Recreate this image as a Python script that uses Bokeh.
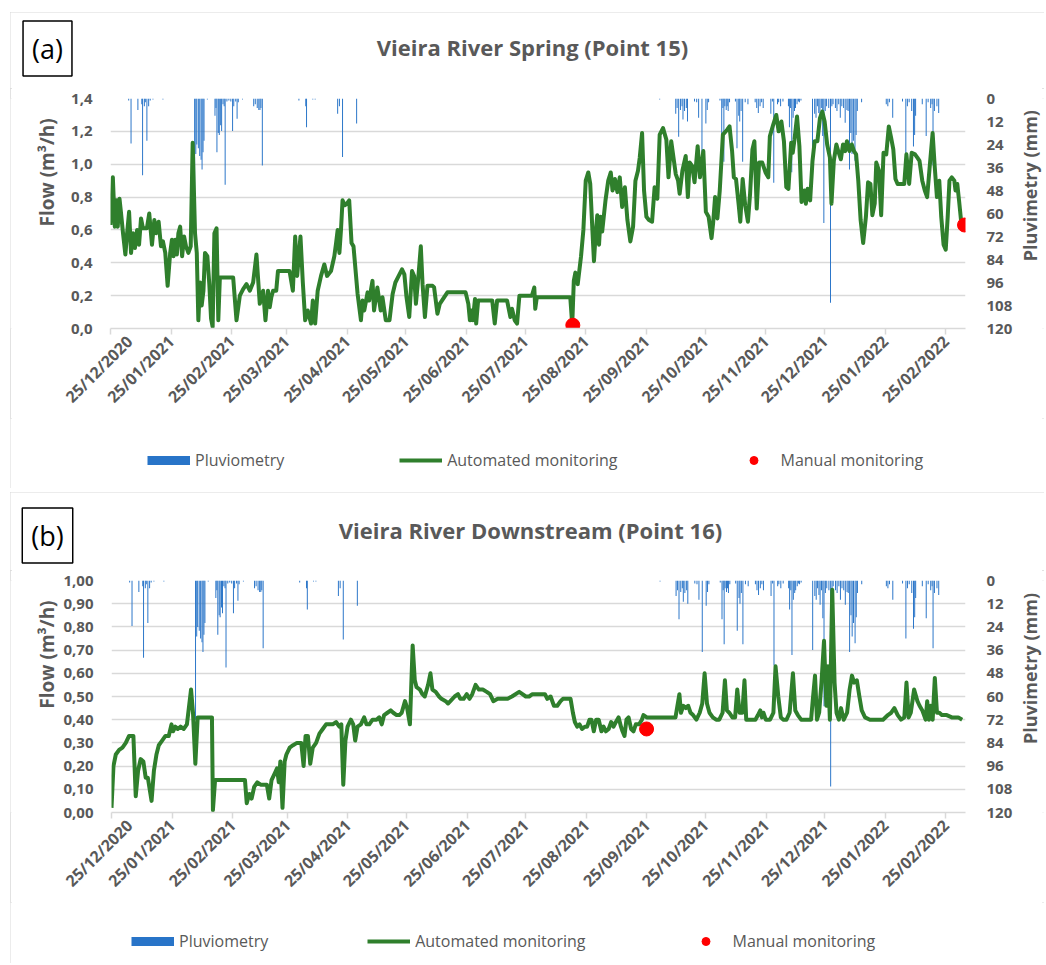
import numpy as np
import pandas as pd
from datetime import datetime
from bokeh.plotting import figure
from bokeh.models import (Range1d, LinearAxis, FixedTicker, CustomJSTickFormatter,
                          DatetimeTickFormatter, Legend, LegendItem, Label, ColumnDataSource)
from bokeh.layouts import column, row
from bokeh.embed import file_html
from bokeh.resources import INLINE

# ---------------- data ----------------
START = "25/12/2020"
X_SPAN_DAYS = 437

date_tick_labels = ["25/12/2020", "25/01/2021", "25/02/2021", "25/03/2021", "25/04/2021",
                    "25/05/2021", "25/06/2021", "25/07/2021", "25/08/2021", "25/09/2021",
                    "25/10/2021", "25/11/2021", "25/12/2021", "25/01/2022", "25/02/2022"]

flow_a_ticks = [0.0, 0.2, 0.4, 0.6, 0.8, 1.0, 1.2, 1.4]
flow_b_ticks = [0.0, 0.1, 0.2, 0.3, 0.4, 0.5, 0.6, 0.7, 0.8, 0.9, 1.0]
rain_ticks = [0, 12, 24, 36, 48, 60, 72, 84, 96, 108, 120]

# daily rainfall (days after 25/12/2020, mm)
rain_day = [9.3, 10.5, 14.0, 16.0, 16.4, 17.3, 17.8, 18.6, 19.5, 20.3,
            21.7, 26.8, 43.0, 43.6, 44.1, 44.9, 45.6, 46.3, 46.8, 47.3,
            47.8, 49.5, 53.4, 53.9, 54.4, 55.1, 55.6, 56.3, 56.8, 57.5,
            58.1, 58.6, 59.5, 60.5, 61.5, 62.4, 63.0, 64.0, 64.7, 65.3,
            67.5, 73.2, 74.0, 75.0, 75.8, 76.4, 76.9, 77.6, 96.3, 99.8,
            100.2, 103.4, 104.6, 116.1, 117.0, 118.6, 125.8, 280.7, 288.9, 289.6,
            290.4, 291.3, 292.1, 292.6, 293.4, 294.3, 294.9, 298.5, 299.6, 300.6,
            302.3, 304.3, 305.0, 305.7, 311.5, 312.4, 313.0, 313.5, 314.0, 314.7,
            315.2, 315.7, 316.4, 319.4, 320.2, 321.1, 321.6, 322.3, 323.1, 324.4,
            325.8, 329.5, 330.3, 331.1, 332.0, 332.8, 333.6, 337.5, 338.3, 339.0,
            340.9, 341.5, 342.5, 343.7, 346.5, 347.0, 347.6, 348.2, 348.9, 349.6,
            350.1, 350.9, 351.6, 352.1, 352.9, 358.8, 359.9, 360.6, 361.3, 362.0,
            362.6, 363.3, 364.0, 364.6, 365.3, 366.0, 367.1, 368.0, 368.7, 369.3,
            370.5, 371.3, 372.2, 373.0, 373.8, 374.7, 375.5, 376.4, 377.0, 377.7,
            378.4, 379.0, 379.7, 380.5, 381.1, 381.7, 383.9, 396.5, 397.3, 398.1,
            399.8, 404.8, 406.5, 407.3, 408.2, 409.5, 410.4, 411.0, 411.5, 414.9,
            416.9, 417.9, 419.2, 419.9, 420.4, 421.1, 422.4, 423.3]
rain_mm = [1, 23.5, 6, 3, 40, 4, 2, 22, 4, 1,
           0.5, 0.5, 72, 29, 24, 26, 30, 32, 37, 28,
           22, 0.5, 9, 5, 28, 18, 19, 14, 17, 3,
           4, 45, 1.5, 1, 1.5, 17, 4, 1.5, 10.5, 2,
           0.5, 4, 3, 5, 6, 6, 5, 35, 1, 4,
           15, 0.5, 0.5, 8, 4, 30.5, 13, 0.5, 8, 5,
           20, 6, 4, 11, 6.5, 5, 12, 1.5, 2, 10,
           37, 13, 6, 2, 1, 20, 5, 33, 4, 6,
           4, 6.5, 2, 1.5, 26, 9, 12, 6.5, 33, 2,
           3, 2, 5, 7.5, 4, 2, 5, 8, 1.5, 44,
           3, 2, 4, 1.5, 4, 15, 5, 38.5, 10, 6.5,
           5, 3, 1.5, 2, 1, 36, 8, 10, 4, 7.5,
           12.6, 5, 19.5, 65, 6.5, 4, 5, 106.5, 4, 3,
           5, 6.5, 3, 10, 4, 5, 12.6, 6, 6.5, 37,
           18, 29, 22, 32.5, 19, 6.5, 2, 3, 4, 2,
           10, 1.5, 30, 4, 2, 6.5, 25, 19, 9, 3,
           19.5, 2, 5, 3, 35, 6.5, 4, 7.5]

# (a) Vieira River Spring - automated flow (days after 25/12/2020, m3/h)
flow_a_day = [0.0, 1.2, 2.2, 3.1, 3.7, 4.6, 5.4, 6.4, 7.6, 8.5,
              9.5, 10.5, 11.5, 12.5, 13.6, 14.6, 15.6, 16.6, 18.6, 19.8,
              21.2, 22.4, 23.4, 24.6, 25.8, 26.8, 28.0, 29.2, 30.5, 31.4,
              32.2, 33.1, 33.9, 34.7, 35.6, 36.6, 37.6, 38.6, 39.8, 41.0,
              42.0, 43.2, 44.1, 44.9, 45.8, 46.6, 47.5, 48.3, 49.5, 50.5,
              51.4, 52.2, 53.1, 54.2, 55.1, 55.9, 62.7, 64.4, 66.1, 67.8,
              69.5, 71.2, 72.9, 74.6, 76.3, 78.0, 79.2, 80.5, 81.4, 82.2,
              83.1, 84.7, 85.6, 91.5, 93.2, 94.4, 95.4, 97.1, 98.3, 99.5,
              100.8, 102.5, 103.4, 104.6, 105.9, 107.6, 109.3, 110.7, 112.7, 114.4,
              115.3, 116.1, 117.0, 117.8, 118.6, 119.8, 120.8, 122.0, 123.2, 124.2,
              126.3, 128.0, 128.8, 129.7, 131.4, 132.2, 133.9, 134.7, 136.4, 138.1,
              139.0, 140.7, 142.6, 144.2, 145.6, 147.3, 149.0, 150.2, 151.3, 152.7,
              154.1, 155.2, 156.1, 157.4, 158.6, 159.5, 160.7, 162.0, 164.6, 165.4,
              167.1, 168.3, 170.5, 172.2, 181.5, 182.9, 183.7, 184.6, 185.2, 186.3,
              186.9, 187.9, 195.1, 196.4, 197.6, 202.7, 204.4, 205.2, 206.6, 207.8,
              209.0, 215.4, 216.6, 217.1, 217.9, 235.0, 236.0, 236.8, 237.6, 238.8,
              240.5, 241.7, 242.9, 244.2, 245.2, 246.3, 247.1, 248.0, 248.8, 249.7,
              250.5, 251.3, 253.0, 254.4, 255.7, 256.6, 257.8, 259.1, 260.3, 261.5,
              262.9, 264.2, 265.7, 267.1, 268.3, 269.6, 270.5, 271.7, 272.7, 273.9,
              275.2, 276.8, 278.1, 279.5, 280.7, 282.4, 284.1, 285.2, 286.6, 288.9,
              290.1, 290.9, 292.3, 294.0, 295.1, 296.0, 297.3, 298.5, 300.1, 301.3,
              303.0, 304.3, 305.7, 307.2, 308.0, 309.0, 310.2, 311.4, 313.0, 315.2,
              316.4, 317.7, 318.6, 319.7, 321.1, 321.9, 323.1, 324.4, 325.8, 326.9,
              328.1, 329.1, 330.3, 331.5, 333.1, 334.8, 336.2, 337.0, 338.7, 340.3,
              341.5, 342.9, 344.2, 345.4, 346.5, 347.9, 348.7, 349.6, 350.9, 352.1,
              353.2, 354.6, 355.4, 356.3, 357.6, 358.8, 359.9, 361.3, 362.6, 363.8,
              365.0, 366.3, 367.7, 368.5, 369.7, 371.0, 372.2, 373.3, 374.4, 375.5,
              376.4, 377.7, 378.9, 380.0, 381.1, 382.2, 383.4, 384.7, 386.1, 387.2,
              388.4, 389.4, 390.6, 391.4, 392.8, 393.9, 395.1, 396.5, 397.8, 399.0,
              400.1, 401.2, 402.3, 405.7, 406.8, 408.2, 409.5, 411.2, 412.4, 413.5,
              414.9, 416.2, 417.4, 418.6, 420.2, 421.3, 422.4, 423.6, 424.6, 425.8,
              426.9, 427.9, 428.8, 430.0, 431.3, 431.9, 432.8, 433.7, 434.7]
flow_a = [0.63, 0.92, 0.62, 0.78, 0.62, 0.79, 0.70, 0.58, 0.45, 0.58,
          0.71, 0.46, 0.58, 0.49, 0.60, 0.51, 0.67, 0.61, 0.61, 0.70,
          0.51, 0.66, 0.58, 0.65, 0.50, 0.53, 0.46, 0.26, 0.46, 0.54,
          0.44, 0.54, 0.45, 0.58, 0.62, 0.44, 0.56, 0.50, 0.46, 0.50,
          1.13, 0.58, 0.46, 0.05, 0.28, 0.14, 0.23, 0.46, 0.44, 0.27,
          0.06, 0.01, 0.58, 0.61, 0.05, 0.31, 0.31, 0.05, 0.20, 0.24,
          0.27, 0.23, 0.28, 0.45, 0.15, 0.23, 0.05, 0.23, 0.13, 0.19,
          0.23, 0.23, 0.35, 0.35, 0.23, 0.56, 0.32, 0.56, 0.28, 0.05,
          0.11, 0.03, 0.17, 0.03, 0.23, 0.32, 0.39, 0.32, 0.35, 0.44,
          0.52, 0.60, 0.46, 0.60, 0.78, 0.75, 0.76, 0.78, 0.52, 0.50,
          0.21, 0.05, 0.17, 0.11, 0.22, 0.17, 0.29, 0.11, 0.25, 0.11,
          0.19, 0.05, 0.05, 0.21, 0.28, 0.32, 0.36, 0.33, 0.19, 0.07,
          0.35, 0.32, 0.15, 0.32, 0.50, 0.27, 0.07, 0.26, 0.26, 0.25,
          0.09, 0.15, 0.19, 0.22, 0.22, 0.15, 0.05, 0.11, 0.05, 0.18,
          0.03, 0.17, 0.17, 0.03, 0.17, 0.17, 0.07, 0.12, 0.05, 0.03,
          0.20, 0.20, 0.25, 0.12, 0.19, 0.19, 0.02, 0.29, 0.34, 0.27,
          0.44, 0.60, 0.90, 0.95, 0.88, 0.60, 0.41, 0.58, 0.69, 0.51,
          0.68, 0.59, 0.78, 0.90, 0.95, 0.84, 0.91, 0.83, 0.92, 0.74,
          0.86, 0.66, 0.53, 0.62, 0.90, 0.96, 1.04, 1.19, 0.84, 0.68,
          0.66, 0.65, 0.86, 0.79, 1.18, 1.22, 1.15, 0.92, 1.14, 0.94,
          0.90, 0.82, 0.96, 1.05, 0.80, 1.01, 0.99, 0.89, 1.11, 0.92,
          1.08, 0.71, 0.68, 0.55, 0.64, 0.80, 0.67, 0.84, 1.18, 1.21,
          1.23, 1.08, 0.92, 0.91, 0.75, 0.65, 0.91, 0.75, 0.65, 0.82,
          1.09, 1.14, 0.73, 1.01, 1.01, 0.95, 0.92, 1.17, 1.24, 1.30,
          1.20, 1.26, 1.14, 0.86, 0.85, 1.13, 1.07, 1.15, 1.29, 1.11,
          0.77, 0.84, 0.76, 0.85, 0.78, 1.02, 1.14, 1.14, 1.28, 1.32,
          1.26, 1.12, 1.04, 0.76, 1.02, 1.12, 1.07, 1.03, 1.12, 1.08,
          1.14, 1.08, 1.12, 1.08, 1.06, 0.90, 0.66, 0.52, 0.68, 0.89,
          0.88, 0.69, 0.76, 1.01, 0.96, 0.69, 1.07, 1.06, 1.23, 1.16,
          1.09, 0.91, 0.88, 0.88, 1.06, 0.88, 1.07, 1.06, 1.04, 1.02,
          0.90, 0.84, 0.80, 0.97, 1.19, 0.98, 0.80, 0.90, 0.68, 0.51,
          0.48, 0.68, 0.90, 0.92, 0.90, 0.84, 0.88, 0.78, 0.66]
manual_a_day = [236.3, 436.5]
manual_a = [0.02, 0.63]

# (b) Vieira River Downstream - automated flow (days after 25/12/2020, m3/h)
flow_b_day = [0.0, 1.0, 2.2, 3.9, 5.6, 7.3, 9.0, 10.2, 11.2, 12.4,
              13.6, 14.9, 16.3, 17.5, 18.6, 20.5, 21.7, 23.0, 24.2, 25.9,
              27.6, 29.3, 30.7, 31.5, 32.7, 33.9, 35.3, 36.9, 38.6, 40.7,
              41.7, 42.9, 44.1, 51.4, 51.9, 53.0, 68.3, 69.2, 70.5, 71.7,
              73.0, 74.6, 76.3, 79.5, 80.7, 81.9, 83.6, 84.7, 85.6, 86.4,
              87.5, 88.6, 89.5, 91.2, 92.9, 94.9, 97.1, 98.3, 99.3, 100.5,
              101.7, 103.0, 104.7, 106.4, 108.1, 109.8, 111.5, 113.2, 114.9, 116.6,
              117.6, 118.6, 119.7, 120.8, 122.5, 123.7, 124.7, 125.9, 127.6, 129.3,
              130.5, 131.9, 133.6, 135.6, 137.0, 138.3, 139.5, 141.2, 142.9, 144.2,
              145.9, 147.3, 148.5, 150.2, 151.3, 152.7, 154.1, 155.2, 156.1, 157.8,
              159.1, 160.3, 162.0, 163.2, 164.2, 165.9, 167.6, 168.8, 171.0, 172.2,
              173.4, 175.6, 177.3, 178.5, 180.2, 181.8, 183.2, 184.6, 186.3, 188.0,
              190.0, 192.0, 193.7, 195.4, 197.6, 200.2, 202.7, 204.9, 208.6, 210.3,
              212.0, 213.7, 215.4, 217.9, 220.2, 221.8, 223.0, 224.7, 226.4, 228.1,
              229.8, 231.0, 234.9, 236.1, 237.1, 238.3, 239.5, 240.8, 242.2, 243.4,
              244.6, 245.6, 246.8, 248.0, 249.3, 250.7, 251.8, 253.0, 254.4, 255.7,
              256.9, 258.1, 259.5, 260.7, 261.5, 262.5, 263.5, 264.6, 265.9, 267.1,
              268.3, 270.0, 271.4, 272.2, 273.9, 288.6, 290.6, 291.4, 292.6, 293.9,
              295.1, 296.3, 297.6, 299.3, 301.0, 302.3, 303.5, 304.7, 306.0, 307.7,
              309.4, 311.0, 312.7, 313.9, 314.9, 316.1, 317.7, 319.1, 320.2, 321.4,
              322.8, 323.9, 324.8, 329.5, 330.8, 332.0, 332.8, 333.6, 334.8, 337.0,
              338.7, 339.8, 341.2, 342.5, 343.7, 345.4, 347.0, 348.7, 349.9, 351.2,
              352.9, 358.0, 358.8, 360.0, 361.0, 362.1, 363.3, 364.6, 365.8, 366.6,
              367.6, 368.8, 370.0, 371.0, 372.2, 373.3, 374.7, 376.4, 377.7, 378.9,
              380.0, 381.4, 382.7, 383.9, 385.6, 388.1, 394.8, 397.3, 399.0, 400.6,
              402.3, 404.0, 405.7, 406.8, 407.9, 409.0, 410.7, 412.4, 413.5, 414.9,
              416.6, 417.4, 418.3, 419.2, 420.2, 421.3, 422.4, 423.6, 424.9, 427.4,
              430.0, 433.3, 435.3]
flow_b = [0.02, 0.20, 0.25, 0.27, 0.28, 0.30, 0.33, 0.33, 0.33, 0.07,
          0.18, 0.23, 0.22, 0.15, 0.15, 0.05, 0.18, 0.25, 0.29, 0.31,
          0.33, 0.33, 0.38, 0.35, 0.37, 0.36, 0.37, 0.36, 0.38, 0.53,
          0.43, 0.21, 0.41, 0.41, 0.01, 0.14, 0.14, 0.04, 0.08, 0.06,
          0.11, 0.13, 0.12, 0.12, 0.06, 0.14, 0.17, 0.19, 0.13, 0.22,
          0.02, 0.22, 0.25, 0.28, 0.29, 0.30, 0.30, 0.20, 0.33, 0.33,
          0.21, 0.28, 0.30, 0.34, 0.36, 0.38, 0.38, 0.38, 0.39, 0.37,
          0.38, 0.12, 0.31, 0.37, 0.40, 0.38, 0.31, 0.37, 0.38, 0.41,
          0.38, 0.38, 0.40, 0.40, 0.41, 0.38, 0.42, 0.43, 0.44, 0.43,
          0.42, 0.42, 0.43, 0.48, 0.45, 0.38, 0.72, 0.57, 0.54, 0.53,
          0.51, 0.50, 0.55, 0.60, 0.53, 0.52, 0.50, 0.49, 0.48, 0.47,
          0.48, 0.50, 0.51, 0.49, 0.49, 0.51, 0.49, 0.51, 0.55, 0.53,
          0.53, 0.52, 0.51, 0.48, 0.49, 0.49, 0.49, 0.50, 0.52, 0.51,
          0.50, 0.50, 0.51, 0.51, 0.51, 0.51, 0.49, 0.50, 0.46, 0.46,
          0.48, 0.49, 0.49, 0.43, 0.39, 0.37, 0.38, 0.36, 0.37, 0.37,
          0.40, 0.40, 0.35, 0.40, 0.40, 0.35, 0.37, 0.35, 0.36, 0.39,
          0.37, 0.39, 0.41, 0.37, 0.35, 0.33, 0.40, 0.41, 0.36, 0.35,
          0.38, 0.38, 0.40, 0.42, 0.41, 0.41, 0.51, 0.43, 0.46, 0.45,
          0.46, 0.43, 0.42, 0.40, 0.43, 0.47, 0.60, 0.47, 0.43, 0.41,
          0.40, 0.40, 0.43, 0.57, 0.44, 0.43, 0.41, 0.41, 0.53, 0.43,
          0.43, 0.57, 0.40, 0.40, 0.42, 0.44, 0.41, 0.43, 0.40, 0.40,
          0.43, 0.63, 0.50, 0.41, 0.40, 0.40, 0.43, 0.60, 0.44, 0.42,
          0.40, 0.40, 0.48, 0.59, 0.40, 0.43, 0.56, 0.74, 0.46, 0.63,
          0.40, 0.96, 0.56, 0.43, 0.40, 0.45, 0.40, 0.43, 0.53, 0.59,
          0.56, 0.57, 0.50, 0.44, 0.41, 0.40, 0.40, 0.42, 0.43, 0.45,
          0.42, 0.40, 0.41, 0.56, 0.41, 0.43, 0.53, 0.48, 0.46, 0.44,
          0.40, 0.48, 0.40, 0.46, 0.40, 0.58, 0.43, 0.43, 0.42, 0.42,
          0.41, 0.41, 0.40]
manual_b_day = [273.8]
manual_b = [0.36]

# ---------------- style ----------------
FONT = "Open Sans"
GREY_TXT = "#595959"
GRID = "#D9D9D9"
BLUE = "#2874C8"
GREEN = "#2F7F2C"
RED = "#FF0000"
DAY_MS = 86400000.0
PANEL_W = 1034
LEFT_W = 50
SIDE_W = 29
MAIN_W = PANEL_W - LEFT_W - SIDE_W

start_ts = pd.Timestamp(datetime.strptime(START, "%d/%m/%Y"))


def to_dt(days):
    return start_ts + pd.to_timedelta(np.asarray(days, dtype=float), unit="D")


tick_ms = [pd.Timestamp(datetime.strptime(s, "%d/%m/%Y")).value / 1e6 for s in date_tick_labels]


def blank_fig(w, h):
    f = figure(width=w, height=h, output_backend="svg", toolbar_location=None,
               x_range=Range1d(0, w), y_range=Range1d(h, 0),
               x_axis_location=None, y_axis_location=None, min_border=0,
               outline_line_color=None, background_fill_color="white",
               border_fill_color="white")
    f.grid.visible = False
    return f


def make_panel(letter, title, fday, fval, mday, mval, ymax, yticks, ydec, g):
    # ---- header: title + panel letter
    head = blank_fig(PANEL_W, g["head_h"])
    head.add_layout(Label(x=g["title_x"], y=g["title_y"], text=title,
                          text_align="center", text_baseline="middle",
                          text_font=FONT, text_font_size="22px", text_font_style="bold",
                          text_color=GREY_TXT))
    head.add_layout(Label(x=37, y=g["letter_y"], text=letter,
                          text_align="center", text_baseline="middle",
                          text_font=FONT, text_font_size="27px", text_color="black",
                          border_line_color="black", border_line_width=1.5,
                          background_fill_color="white", padding=9))

    # ---- left axis title
    left = blank_fig(LEFT_W, g["main_h"])
    left.add_layout(Label(x=36, y=g["ylab_y"], text="Flow (m³/h)",
                          angle=np.pi / 2, text_align="center", text_baseline="middle",
                          text_font=FONT, text_font_size="19px", text_font_style="bold",
                          text_color=GREY_TXT))

    # ---- main chart
    p = figure(width=MAIN_W, height=g["main_h"], x_axis_type="datetime",
               output_backend="svg", toolbar_location=None,
               x_range=Range1d(start_ts, start_ts + pd.Timedelta(days=X_SPAN_DAYS)),
               y_range=Range1d(0, ymax),
               min_border_left=100 - LEFT_W, min_border_right=48,
               min_border_top=10, min_border_bottom=g["main_h"] - 10 - g["frame_h"],
               background_fill_color="white", border_fill_color="white",
               outline_line_color=None)
    p.extra_y_ranges = {"rain": Range1d(start=120, end=0)}

    p.xgrid.visible = False
    p.ygrid.grid_line_color = GRID
    p.ygrid.grid_line_width = 1.5

    xa = p.xaxis[0]
    xa.ticker = FixedTicker(ticks=tick_ms)
    fmt = "%d/%m/%Y"
    xa.formatter = DatetimeTickFormatter(microseconds=fmt, milliseconds=fmt, seconds=fmt,
                                         minsec=fmt, minutes=fmt, hourmin=fmt, hours=fmt,
                                         days=fmt, months=fmt, years=fmt)
    xa.major_label_orientation = np.pi / 4
    xa.major_label_text_font = FONT
    xa.major_label_text_font_size = "16px"
    xa.major_label_text_font_style = "bold"
    xa.major_label_text_color = GREY_TXT
    xa.major_label_standoff = 4
    xa.axis_line_color = GRID
    xa.axis_line_width = 1.5
    xa.major_tick_line_color = GRID
    xa.major_tick_line_width = 1.5
    xa.major_tick_out = 6
    xa.major_tick_in = 0
    xa.minor_tick_line_color = None

    ya = p.yaxis[0]
    ya.ticker = FixedTicker(ticks=yticks)
    ya.formatter = CustomJSTickFormatter(code="return tick.toFixed(%d).replace('.', ',');" % ydec)
    ya.axis_line_color = None
    ya.major_tick_line_color = None
    ya.minor_tick_line_color = None
    ya.major_label_text_font = FONT
    ya.major_label_text_font_size = "15px"
    ya.major_label_text_font_style = "bold"
    ya.major_label_text_color = GREY_TXT
    ya.major_label_standoff = 12

    ra = LinearAxis(y_range_name="rain", ticker=FixedTicker(ticks=rain_ticks))
    ra.axis_line_color = None
    ra.major_tick_line_color = None
    ra.minor_tick_line_color = None
    ra.major_label_text_font = FONT
    ra.major_label_text_font_size = "15px"
    ra.major_label_text_font_style = "bold"
    ra.major_label_text_color = GREY_TXT
    ra.major_label_standoff = 15
    p.add_layout(ra, "right")

    src_rain = ColumnDataSource(dict(x=to_dt(rain_day), mm=rain_mm))
    p.vbar(x="x", top="mm", bottom=0, width=0.5 * DAY_MS, source=src_rain,
           fill_color=BLUE, line_color=None, y_range_name="rain")
    src_f = ColumnDataSource(dict(x=to_dt(fday), y=fval))
    p.line("x", "y", source=src_f, line_color=GREEN, line_width=4, line_join="round")
    src_m = ColumnDataSource(dict(x=to_dt(mday), y=mval))
    p.scatter("x", "y", source=src_m, size=14, fill_color=RED, line_color=RED)

    # ---- right axis title (reads bottom to top)
    side = blank_fig(SIDE_W, g["main_h"])
    side.add_layout(Label(x=14, y=10 + g["frame_h"] / 2, text="Pluvimetry (mm)",
                          angle=np.pi / 2, text_align="center", text_baseline="middle",
                          text_font=FONT, text_font_size="18px", text_font_style="bold",
                          text_color=GREY_TXT))

    # ---- footer: legend
    foot = blank_fig(PANEL_W, g["foot_h"])
    nan2 = [np.nan, np.nan]
    r_bar = foot.line(x=nan2, y=nan2, line_color=BLUE, line_width=9)
    r_line = foot.line(x=nan2, y=nan2, line_color=GREEN, line_width=4)
    r_dot = foot.scatter(x=nan2, y=nan2, size=14, fill_color=RED, line_color=RED)
    legend = Legend(items=[LegendItem(label="Pluviometry", renderers=[r_bar]),
                           LegendItem(label="Automated monitoring", renderers=[r_line]),
                           LegendItem(label="Manual monitoring", renderers=[r_dot])],
                    location=g["leg_loc"], orientation="horizontal", spacing=g["leg_spacing"],
                    glyph_width=43, glyph_height=20, label_standoff=5, padding=0, margin=0,
                    border_line_color=None, background_fill_alpha=0,
                    label_text_font=FONT, label_text_font_size="16px",
                    label_text_color=GREY_TXT)
    foot.add_layout(legend)

    return column(head, row(left, p, side), foot, margin=g["margin"],
                  styles={"outline": "2px solid #D9D9D9", "outline-offset": "-2px"})


geom_a = dict(head_h=76, main_h=330, frame_h=230, foot_h=70, title_x=522, title_y=34,
              letter_y=36, ylab_y=106, leg_loc=(137, 17), leg_spacing=115,
              margin=(12, 0, 0, 10))
geom_b = dict(head_h=78, main_h=332, frame_h=232, foot_h=61, title_x=520, title_y=37,
              letter_y=43, ylab_y=106, leg_loc=(121, 11), leg_spacing=99,
              margin=(4, 0, 0, 10))

pa = make_panel("(a)", "Vieira River Spring (Point 15)", flow_a_day, flow_a,
                manual_a_day, manual_a, 1.4, flow_a_ticks, 1, geom_a)
pb = make_panel("(b)", "Vieira River Downstream (Point 16)", flow_b_day, flow_b,
                manual_b_day, manual_b, 1.0, flow_b_ticks, 2, geom_b)

layout = column(pa, pb)
open("out.html", "w").write(file_html(layout, INLINE))
